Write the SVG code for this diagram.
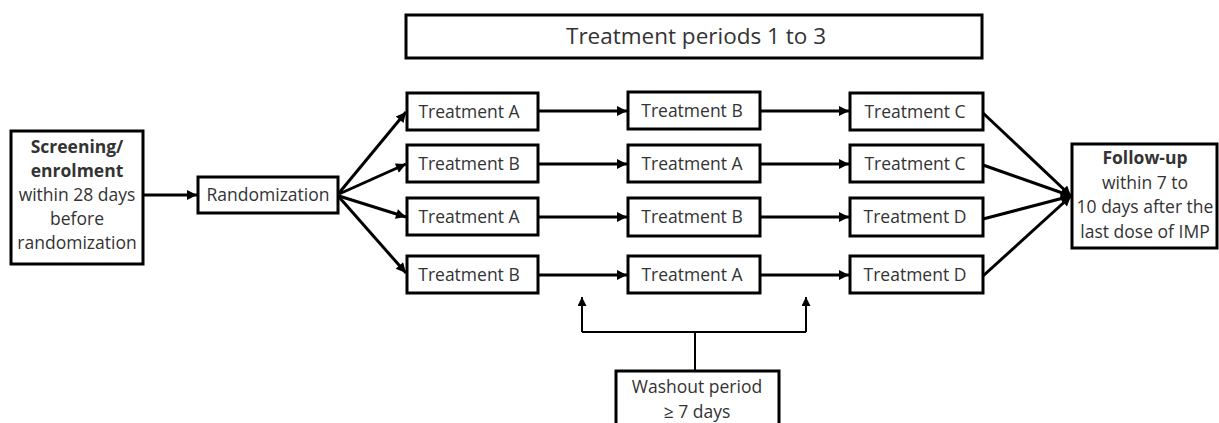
<svg xmlns="http://www.w3.org/2000/svg" width="1219" height="423" viewBox="0 0 1219 423">
<defs>
<style>
.box{fill:#fff;stroke:#000;stroke-width:3}
.t{font-family:"Open Sans","Liberation Sans",sans-serif;font-size:17.5px;fill:#333;text-anchor:middle}
.b{font-weight:bold}
.c{stroke:#000;stroke-width:3;fill:none}
.w{stroke:#000;stroke-width:2;fill:none}
</style>
<marker id="ah" viewBox="0 0 10 10" refX="10" refY="5" markerWidth="12" markerHeight="10" markerUnits="userSpaceOnUse" orient="auto">
<path d="M0,0 L10,5 L0,10 z" fill="#000"/>
</marker>
<marker id="ahs" viewBox="0 0 10 10" refX="10" refY="5" markerWidth="9" markerHeight="9" markerUnits="userSpaceOnUse" orient="auto">
<path d="M0,0 L10,5 L0,10 z" fill="#000"/>
</marker>
</defs>
<rect width="1219" height="423" fill="#fff"/>

<g id="connectors">
<line class="c" x1="143" y1="195" x2="197" y2="195" marker-end="url(#ah)"/>
<line class="c" x1="339" y1="193" x2="406" y2="112" marker-end="url(#ah)"/>
<line class="c" x1="339" y1="194" x2="406" y2="164" marker-end="url(#ah)"/>
<line class="c" x1="339" y1="196" x2="406" y2="217" marker-end="url(#ah)"/>
<line class="c" x1="339" y1="197" x2="406" y2="273" marker-end="url(#ah)"/>
<line class="c" x1="538" y1="111" x2="627" y2="111" marker-end="url(#ah)"/>
<line class="c" x1="538" y1="164" x2="627" y2="164" marker-end="url(#ah)"/>
<line class="c" x1="538" y1="217" x2="627" y2="217" marker-end="url(#ah)"/>
<line class="c" x1="538" y1="275" x2="627" y2="275" marker-end="url(#ah)"/>
<line class="c" x1="760" y1="111" x2="849" y2="111" marker-end="url(#ah)"/>
<line class="c" x1="760" y1="164" x2="849" y2="164" marker-end="url(#ah)"/>
<line class="c" x1="760" y1="217" x2="849" y2="217" marker-end="url(#ah)"/>
<line class="c" x1="760" y1="275" x2="849" y2="275" marker-end="url(#ah)"/>
<line class="c" x1="983" y1="113" x2="1071" y2="196" marker-end="url(#ah)"/>
<line class="c" x1="983" y1="165" x2="1071" y2="196" marker-end="url(#ah)"/>
<line class="c" x1="983" y1="219" x2="1071" y2="196" marker-end="url(#ah)"/>
<line class="c" x1="983" y1="276" x2="1071" y2="196" marker-end="url(#ah)"/>
<polyline class="w" points="582,332 806,332"/>
<line class="w" x1="582" y1="332" x2="582" y2="297" marker-end="url(#ahs)"/>
<line class="w" x1="806" y1="332" x2="806" y2="297" marker-end="url(#ahs)"/>
<line class="w" x1="695" y1="332" x2="695" y2="371"/>
</g>

<g id="title">
<rect class="box" x="406" y="15" width="576" height="43"/>
<text class="t" x="696" y="44" style="font-size:22.5px">Treatment periods 1 to 3</text>
</g>

<g id="screening">
<rect class="box" x="11" y="131" width="132" height="133"/>
<text class="t b" x="77" y="153">Screening/</text>
<text class="t b" x="77" y="177">enrolment</text>
<text class="t" x="77" y="201">within 28 days</text>
<text class="t" x="77" y="225">before</text>
<text class="t" x="77" y="249">randomization</text>
</g>

<g id="randomization">
<rect class="box" x="198" y="177" width="140" height="36"/>
<text class="t" x="268" y="201">Randomization</text>
</g>

<g id="p1r1"><rect class="box" x="407" y="93" width="131" height="37"/><text class="t" x="469" y="118">Treatment A</text></g>
<g id="p1r2"><rect class="box" x="407" y="145" width="131" height="37"/><text class="t" x="469" y="170">Treatment B</text></g>
<g id="p1r3"><rect class="box" x="407" y="198" width="131" height="37"/><text class="t" x="469" y="223">Treatment A</text></g>
<g id="p1r4"><rect class="box" x="407" y="256" width="131" height="37"/><text class="t" x="469" y="281">Treatment B</text></g>

<g id="p2r1"><rect class="box" x="628" y="92" width="132" height="37"/><text class="t" x="692" y="117">Treatment B</text></g>
<g id="p2r2"><rect class="box" x="628" y="145" width="132" height="37"/><text class="t" x="692" y="170">Treatment A</text></g>
<g id="p2r3"><rect class="box" x="628" y="198" width="132" height="38"/><text class="t" x="692" y="223">Treatment B</text></g>
<g id="p2r4"><rect class="box" x="628" y="256" width="132" height="37"/><text class="t" x="692" y="281">Treatment A</text></g>

<g id="p3r1"><rect class="box" x="850" y="93" width="133" height="37"/><text class="t" x="915" y="118">Treatment C</text></g>
<g id="p3r2"><rect class="box" x="850" y="145" width="133" height="37"/><text class="t" x="915" y="170">Treatment C</text></g>
<g id="p3r3"><rect class="box" x="850" y="198" width="133" height="38"/><text class="t" x="915" y="223">Treatment D</text></g>
<g id="p3r4"><rect class="box" x="850" y="256" width="133" height="37"/><text class="t" x="915" y="281">Treatment D</text></g>

<g id="followup">
<rect class="box" x="1072" y="144" width="145" height="104"/>
<text class="t b" x="1145" y="164">Follow-up</text>
<text class="t" x="1145" y="189">within 7 to</text>
<text class="t" x="1145" y="213">10 days after the</text>
<text class="t" x="1145" y="238">last dose of IMP</text>
</g>

<g id="washout">
<rect class="box" x="616" y="371" width="163" height="60"/>
<text class="t" x="697" y="393">Washout period</text>
<text class="t" x="697" y="418">≥ 7 days</text>
</g>
</svg>
